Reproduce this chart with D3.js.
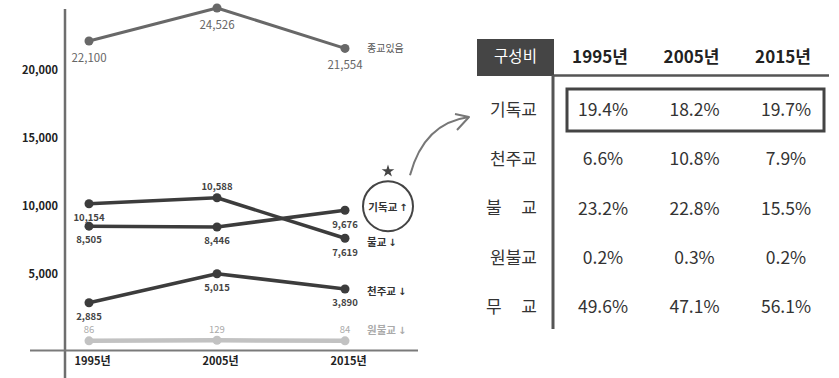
<!DOCTYPE html>
<html lang="ko">
<head>
<meta charset="utf-8">
<script src="https://cdn.jsdelivr.net/npm/d3@7"></script>
<style>
  html, body { margin: 0; padding: 0; background: #fff; }
  svg { display: block; font-family: "Noto Sans CJK KR", "Noto Sans", sans-serif; }
</style>
</head>
<body>
<svg id="chart" width="839" height="378"></svg>
<script>
// Religious population (thousands) by census year
const years = ["1995년", "2005년", "2015년"];
const religious = [22100, 24526, 21554];   // 종교있음
const buddhism = [10154, 10588, 7619];     // 불교
const protestant = [8505, 8446, 9676];     // 기독교
const catholic = [2885, 5015, 3890];       // 천주교
const wonBuddhism = [86, 129, 84];         // 원불교
const yTicks = [5000, 10000, 15000, 20000];

// Composition ratio table (%)
const tableYears = ["1995년", "2005년", "2015년"];
const tableRows = ["기독교", "천주교", "불 교", "원불교", "무 교"];
const protestantShare = [19.4, 18.2, 19.7];
const catholicShare = [6.6, 10.8, 7.9];
const buddhismShare = [23.2, 22.8, 15.5];
const wonShare = [0.2, 0.3, 0.2];
const noneShare = [49.6, 47.1, 56.1];

const svg = d3.select("#chart");

const x = d3.scalePoint().domain(years).range([89, 345]);
const y = d3.scaleLinear().domain([0, 25000]).range([342, 1.5]);

// axis lines
svg.append("line").attr("x1", 65).attr("x2", 65).attr("y1", 9).attr("y2", 378)
  .attr("stroke", "#6e6e6e").attr("stroke-width", 2.5);
svg.append("line").attr("x1", 30).attr("x2", 418).attr("y1", 350.5).attr("y2", 350.5)
  .attr("stroke", "#7a7a7a").attr("stroke-width", 2);

const yAxis = svg.append("g").attr("transform", "translate(58,0)")
  .call(d3.axisLeft(y).tickValues(yTicks).tickSize(0).tickPadding(0).tickFormat(d3.format(",")));
yAxis.select(".domain").remove();
yAxis.selectAll("text").attr("font-family", "'Noto Sans CJK KR'").attr("font-size", 11)
  .attr("font-weight", "bold").attr("fill", "#222").attr("dy", "0.35em");

const xAxis = svg.append("g").attr("transform", "translate(0,357)")
  .call(d3.axisBottom(x).tickSize(0).tickPadding(0));
xAxis.select(".domain").remove();
xAxis.selectAll("text").attr("font-family", "'Noto Sans CJK KR'").attr("font-size", 11)
  .attr("font-weight", "bold").attr("fill", "#222").attr("dx", 3);

const series = [
  { name: "종교있음", values: religious, color: "#686868", width: 3, r: 4.5,
    labelColor: "#666", labelSize: 11.5, labelWeight: "normal", tag: "종교있음", arrow: "" },
  { name: "불교", values: buddhism, color: "#3c3c3c", width: 3.5, r: 4.5,
    labelColor: "#444", labelSize: 9.5, labelWeight: "bold", tag: "불교", arrow: "↓" },
  { name: "기독교", values: protestant, color: "#3c3c3c", width: 3.5, r: 4.5,
    labelColor: "#444", labelSize: 9.5, labelWeight: "bold", tag: "기독교", arrow: "↑" },
  { name: "천주교", values: catholic, color: "#3c3c3c", width: 3.5, r: 4.5,
    labelColor: "#444", labelSize: 9.5, labelWeight: "bold", tag: "천주교", arrow: "↓" },
  { name: "원불교", values: wonBuddhism, color: "#c2c2c2", width: 4.5, r: 4.5,
    labelColor: "#aaa", labelSize: 9.5, labelWeight: "normal", tag: "원불교", arrow: "↓" }
];

const line = d3.line().x((d, i) => x(years[i])).y(d => y(d));

series.forEach(s => {
  const g = svg.append("g");
  g.append("path").datum(s.values).attr("d", line)
    .attr("fill", "none").attr("stroke", s.color).attr("stroke-width", s.width)
    .attr("stroke-linejoin", "round");
  g.selectAll("circle").data(s.values).join("circle")
    .attr("cx", (d, i) => x(years[i])).attr("cy", d => y(d)).attr("r", s.r)
    .attr("fill", s.color);
  // value labels: below the point, except the faint series and the 불교 peak
  g.selectAll("text.val").data(s.values).join("text").attr("class", "val")
    .attr("x", (d, i) => x(years[i]))
    .attr("y", (d, i) => {
      const above = s.name === "원불교" || (s.name === "불교" && i === 1);
      return y(d) + (above ? -11 : (s.name === "종교있음" ? 17 : 14));
    })
    .attr("dy", "0.35em").attr("text-anchor", "middle")
    .attr("font-size", s.labelSize).attr("font-weight", s.labelWeight)
    .attr("fill", s.labelColor).text(d => d3.format(",")(d));
});

// series end tags
series.forEach(s => {
  const last = s.values[s.values.length - 1];
  let ty = y(last);
  let tx = 367;
  if (s.name === "불교") ty += 4;
  if (s.name === "천주교") ty += 2;
  if (s.name === "원불교") ty -= 11;
  if (s.name === "기독교") { tx = 388; ty -= 3; }
  const t = svg.append("text").attr("x", tx).attr("y", ty).attr("dy", "0.35em")
    .attr("text-anchor", s.name === "기독교" ? "middle" : "start")
    .attr("font-size", s.name === "종교있음" ? 10 : 10.5)
    .attr("font-weight", s.name === "종교있음" ? "normal" : "bold")
    .attr("fill", s.name === "원불교" ? "#aaa" : (s.name === "종교있음" ? "#555" : "#333"));
  t.append("tspan").text(s.tag);
  if (s.arrow) {
    t.append("tspan").attr("dx", 2).attr("font-family", "'DejaVu Sans'")
      .attr("font-size", 10).attr("font-weight", "bold").text(s.arrow);
  }
});

// highlight circle around 기독교 tag
const cx = 388, cy = y(protestant[2]) - 4;
svg.append("circle").attr("cx", cx).attr("cy", cy).attr("r", 25)
  .attr("fill", "none").attr("stroke", "#444").attr("stroke-width", 2);
svg.append("path").attr("d", d3.symbol(d3.symbolStar, 50)())
  .attr("transform", `translate(${cx},${cy - 35})`).attr("fill", "#444");

// table
const tx = d3.scalePoint().domain(tableYears).range([603, 786]);
const ty = d3.scalePoint().domain(tableRows).range([110, 307]);
const shares = [protestantShare, catholicShare, buddhismShare, wonShare, noneShare];

// connector arrow from the circle to the 기독교 row
const ax0 = cx + 22, ay0 = cy - 31, ax1 = 469, ay1 = ty("기독교") + 7;
svg.append("path")
  .attr("d", `M${ax0},${ay0} Q${ax0 + 14},${ay1 + 6} ${ax1},${ay1}`)
  .attr("fill", "none").attr("stroke", "#777").attr("stroke-width", 2);
svg.append("path")
  .attr("d", `M${ax1 - 14},${ay1 - 3} L${ax1},${ay1} L${ax1 - 12},${ay1 + 13}`)
  .attr("fill", "none").attr("stroke", "#777").attr("stroke-width", 2)
  .attr("stroke-linejoin", "round");

svg.append("rect").attr("x", 477).attr("y", 39).attr("width", 77).attr("height", 37)
  .attr("fill", "#454545");
svg.append("text").attr("x", 515.5).attr("y", 57).attr("dy", "0.35em")
  .attr("text-anchor", "middle").attr("font-size", 15.5).attr("fill", "#fff").text("구성비");

svg.selectAll("text.hdr").data(tableYears).join("text").attr("class", "hdr")
  .attr("x", d => tx(d) - 3).attr("y", 57).attr("dy", "0.35em").attr("text-anchor", "middle")
  .attr("font-size", 17).attr("font-weight", "bold").attr("fill", "#222").text(d => d);

svg.append("line").attr("x1", 554).attr("x2", 829).attr("y1", 75.5).attr("y2", 75.5)
  .attr("stroke", "#555").attr("stroke-width", 2.5);
svg.append("line").attr("x1", 553).attr("x2", 553).attr("y1", 75).attr("y2", 329)
  .attr("stroke", "#555").attr("stroke-width", 3);

svg.selectAll("text.row").data(tableRows).join("text").attr("class", "row")
  .attr("x", 537).attr("y", d => ty(d)).attr("dy", "0.35em").attr("text-anchor", "end")
  .attr("font-size", 17).attr("fill", "#333")
  .each(function(d) {
    if (d.includes(" ")) d3.select(this).attr("textLength", 51).attr("lengthAdjust", "spacing");
  })
  .text(d => d);

tableRows.forEach((r, ri) => {
  svg.selectAll(null).data(shares[ri]).join("text")
    .attr("x", (d, i) => tx(tableYears[i])).attr("y", ty(r)).attr("dy", "0.35em")
    .attr("text-anchor", "middle").attr("font-size", 17.5).attr("fill", "#333")
    .text(d => d.toFixed(1) + "%");
});

svg.append("rect").attr("x", 567).attr("y", ty("기독교") - 21).attr("width", 257).attr("height", 42)
  .attr("fill", "none").attr("stroke", "#444").attr("stroke-width", 3);
</script>
</body>
</html>
